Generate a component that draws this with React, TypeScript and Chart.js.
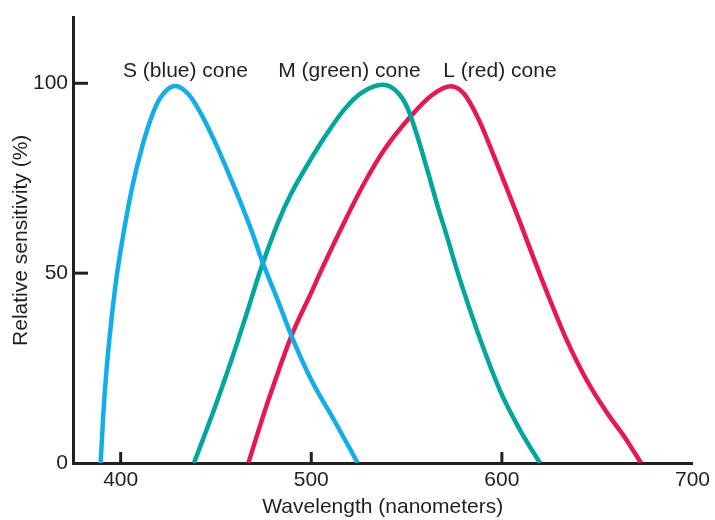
import React, { useEffect, useRef } from "react";
import { Chart, registerables } from "chart.js";

Chart.register(...registerables);

// Axis ticks
const xTicks = [400, 500, 600, 700];
const yTicks = [0, 50, 100];

// S (blue) cone
const sWavelengths = [389.5, 390.8, 392.5, 394.8, 397.6, 401, 406, 411.4, 416.7, 421, 428.5, 435.8, 442.7, 449.7, 456.6, 463.6, 468.8, 474, 482.7, 489.6, 500.1, 512.3, 524.4];
const sValues = [0, 12, 24, 36, 48, 59, 72.5, 83.5, 91.8, 96.3, 99.3, 97, 91.5, 84.3, 76.3, 67.8, 61, 53.5, 42.5, 33.5, 21.8, 11, 0];

// M (green) cone
const mWavelengths = [438.5, 449.7, 458.4, 466.2, 473.5, 482.7, 489, 500.1, 508.8, 517.5, 526.1, 537.5, 545.3, 550.5, 555.7, 561, 566.1, 571.3, 575.7, 581.8, 590.5, 599.1, 609.6, 620];
const mValues = [0, 15, 27.5, 39.5, 51, 63.5, 70.5, 80.3, 87.2, 93.2, 97.4, 99.6, 97.6, 93.5, 86, 77, 68, 59.5, 52, 42.5, 30, 19, 8.6, 0];

// L (red) cone
const lWavelengths = [467, 475.8, 483, 489.6, 500.1, 505.3, 517.5, 527.9, 538.3, 552.2, 562.6, 573.1, 580, 588, 595.7, 602.6, 609.6, 617, 625.2, 633.9, 644.3, 654.8, 665.2, 673];
const lValues = [0, 14, 24.5, 33.5, 45, 50.8, 63.6, 73.8, 82.5, 91.3, 96.6, 99.2, 97.3, 90.3, 81, 72.3, 63.3, 53.5, 43, 32.5, 22, 13.5, 6.2, 0];

// Curve labels (placed in data coordinates)
const coneLabels = ["S (blue) cone", "M (green) cone", "L (red) cone"];
const coneLabelX = [434, 520, 599];
const coneLabelY = [103.3, 103.3, 103.3];

const coneColors = ["#12AEEA", "#00A79D", "#EA1652"];
const ink = "#231f20";
const fontFamily = "'Liberation Sans', Arial, Helvetica, sans-serif";
const fontSize = 21;

const toPoints = (xs: number[], ys: number[]) => xs.map((x, i) => ({ x, y: ys[i] }));

const decorPlugin = {
  id: "decor",
  afterDraw(chart: any) {
    const { ctx } = chart;
    const x = chart.scales.x;
    const y = chart.scales.y;
    ctx.save();
    ctx.strokeStyle = ink;
    ctx.lineWidth = 3;
    ctx.lineCap = "butt";
    yTicks.forEach((v) => {
      if (v === 0) return;
      const py = y.getPixelForValue(v);
      ctx.beginPath();
      ctx.moveTo(x.left, py);
      ctx.lineTo(x.left + 15, py);
      ctx.stroke();
    });
    xTicks.forEach((v) => {
      if (v === 700) return;
      const px = x.getPixelForValue(v);
      ctx.beginPath();
      ctx.moveTo(px, y.bottom);
      ctx.lineTo(px, y.bottom - 11);
      ctx.stroke();
    });
    ctx.fillStyle = ink;
    ctx.font = `${fontSize}px ${fontFamily}`;
    ctx.textAlign = "center";
    ctx.textBaseline = "middle";
    coneLabels.forEach((t, i) => {
      ctx.fillText(t, x.getPixelForValue(coneLabelX[i]), y.getPixelForValue(coneLabelY[i]));
    });
    ctx.restore();
  },
};

export default function App() {
  const canvasRef = useRef<HTMLCanvasElement | null>(null);

  useEffect(() => {
    if (!canvasRef.current) return;
    const mk = (label: string, xs: number[], ys: number[], color: string) => ({
      label,
      data: toPoints(xs, ys),
      borderColor: color,
      backgroundColor: color,
      borderWidth: 4.5,
      pointRadius: 0,
      fill: false,
      cubicInterpolationMode: "monotone" as const,
      borderCapStyle: "butt" as const,
    });
    const chart = new Chart(canvasRef.current, {
      type: "line",
      data: {
        datasets: [
          mk("S (blue) cone", sWavelengths, sValues, coneColors[0]),
          mk("M (green) cone", mWavelengths, mValues, coneColors[1]),
          mk("L (red) cone", lWavelengths, lValues, coneColors[2]),
        ],
      },
      options: {
        responsive: false,
        animation: false,
        devicePixelRatio: 1,
        layout: { padding: { top: 15, right: 17, left: 0, bottom: 0 } },
        plugins: { legend: { display: false }, tooltip: { enabled: false } },
        scales: {
          x: {
            type: "linear",
            min: 375,
            max: 700,
            afterBuildTicks: (scale: any) => {
              scale.ticks = xTicks.map((v) => ({ value: v }));
            },
            afterFit: (scale: any) => {
              scale.height = 57;
            },
            grid: { display: false, drawTicks: false },
            border: { display: true, color: ink, width: 3 },
            ticks: {
              color: ink,
              padding: 5,
              font: { family: fontFamily, size: fontSize },
              maxRotation: 0,
              autoSkip: false,
            },
            title: {
              display: true,
              text: "Wavelength (nanometers)",
              color: ink,
              font: { family: fontFamily, size: fontSize },
              padding: { top: 0, bottom: 0 },
            },
          },
          y: {
            type: "linear",
            min: 0,
            max: 117.3,
            afterBuildTicks: (scale: any) => {
              scale.ticks = yTicks.map((v) => ({ value: v }));
            },
            afterFit: (scale: any) => {
              scale.width = 73;
            },
            grid: { display: false, drawTicks: false },
            border: { display: true, color: ink, width: 3 },
            ticks: {
              color: ink,
              padding: 5,
              font: { family: fontFamily, size: fontSize },
            },
            title: {
              display: true,
              text: "Relative sensitivity (%)",
              color: ink,
              font: { family: fontFamily, size: fontSize },
              padding: { top: 9, bottom: 0 },
            },
          },
        },
      },
      plugins: [decorPlugin],
    });
    return () => chart.destroy();
  }, []);

  return (
    <div style={{ position: "fixed", left: 0, top: 0, width: 715, height: 520, background: "#fff" }}>
      <canvas ref={canvasRef} width={715} height={520} />
    </div>
  );
}
